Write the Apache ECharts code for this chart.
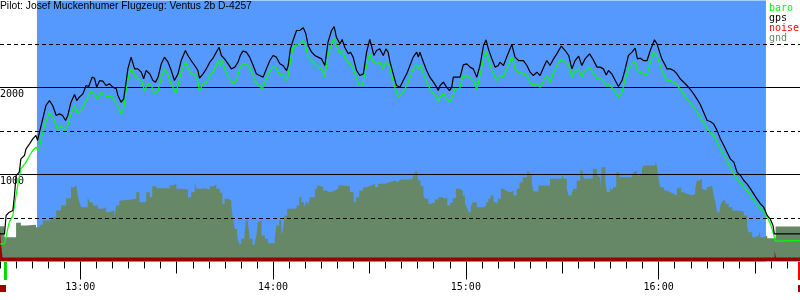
<!DOCTYPE html>
<html>
<head>
<meta charset="utf-8">
<script src="https://cdn.jsdelivr.net/npm/echarts@6/dist/echarts.min.js"></script>
<style>html,body{margin:0;padding:0;background:#fff;}#c{width:800px;height:300px;}</style>
</head>
<body>
<div id="c"></div>
<script>
// ---------- data (time = minutes since midnight, altitude = metres) ----------
const chartTitle = 'Pilot: Josef Muckenhumer Flugzeug: Ventus 2b D-4257';
const legendNames = ['baro', 'gps', 'noise', 'gnd'];
const timeRange = [755, 1004];
const taskWindow = [766.5, 993.4];
const hourTicks = [780, 840, 900, 960];
const halfHourTicks = [810, 870, 930, 990];
const yLabelValues = [1000, 2000];
const solidLevels = [1000, 2000];
const dashedLevels = [500, 1500, 2500];

const gpsTrack = [[754.8,318],[756.4,318],[756.9,529],[757.9,567],[759.0,586],[759.5,759],[760.0,988],[761.0,1027],[761.5,1180],[762.6,1218],[763.1,1295],[764.2,1352],[765.2,1410],[766.2,1448],[766.7,1391],[767.3,1487],[768.3,1640],[769.3,1793],[770.4,1850],[771.4,1793],[772.5,1678],[773.0,1678],[773.5,1697],[774.5,1678],[775.4,1621],[776.1,1678],[777.1,1831],[778.2,1919],[778.9,1850],[779.7,1889],[780.8,1927],[781.8,2023],[782.6,2011],[783.7,2119],[784.4,2107],[785.1,2004],[786.0,2080],[787.0,2073],[788.0,2023],[789.1,2042],[790.1,2004],[791.2,1985],[791.7,1908],[792.7,1831],[793.5,1870],[794.1,2023],[794.8,2214],[795.8,2349],[796.9,2214],[797.9,2214],[799.0,2176],[799.7,2100],[800.5,2195],[801.6,2157],[802.6,2080],[803.4,2061],[804.2,2119],[805.2,2272],[806.2,2349],[807.3,2291],[808.3,2195],[809.3,2080],[810.4,2157],[811.4,2310],[812.7,2425],[813.5,2368],[814.5,2310],[815.6,2253],[816.6,2195],
[817.1,2107],[818.2,2157],[819.2,2214],[820.3,2291],[821.3,2337],[822.3,2406],[823.2,2463],[823.9,2368],[824.4,2387],[824.9,2329],[826.0,2272],[827.0,2214],[828.1,2234],[829.1,2291],[829.8,2368],[830.6,2418],[831.7,2406],[832.7,2349],[833.8,2253],[834.8,2157],[835.8,2138],[836.9,2119],[837.9,2214],[839.0,2310],[840.0,2368],[841.0,2349],[842.1,2272],[843.1,2253],[844.2,2195],[844.7,2253],[845.4,2444],[846.2,2540],[847.3,2655],[848.3,2655],[849.4,2686],[850.2,2617],[850.9,2483],[852.0,2406],[853.0,2368],[854.0,2349],[855.1,2329],[856.1,2253],[857.1,2521],[858.2,2655],[859.0,2701],[859.7,2578],[860.8,2502],[861.5,2552],[862.3,2463],[863.4,2387],[864.1,2406],[864.9,2349],[866.0,2195],[867.0,2138],[868.1,2157],[869.1,2406],[870.1,2552],[870.7,2540],[871.4,2368],[872.2,2425],[873.2,2444],[874.3,2368],[875.1,2444],[875.8,2406],[876.4,2291],[877.4,2157],[878.4,2023],
[879.5,2004],[880.5,2080],[881.6,2157],[882.6,2253],[883.6,2349],[884.7,2406],[885.2,2349],[885.7,2406],[886.8,2291],[887.8,2195],[888.8,2119],[889.9,2061],[890.9,2004],[891.4,1965],[892.0,2023],[893.0,2061],[894.0,2004],[894.9,1965],[895.6,2004],[896.1,2119],[897.1,2119],[898.2,2119],[899.2,2260],[900.3,2272],[901.3,2234],[902.3,2214],[903.4,2119],[904.4,2253],[905.5,2483],[906.3,2548],[907.0,2444],[908.1,2329],[909.1,2234],[910.1,2253],[910.6,2291],[911.7,2253],[912.7,2349],[914.3,2494],[915.3,2349],[916.4,2310],[917.9,2310],[919.0,2253],[920.0,2176],[921.0,2138],[922.1,2176],[923.1,2138],[924.2,2234],[925.2,2310],[926.2,2253],[927.3,2329],[928.3,2387],[929.7,2475],[930.9,2425],[932.0,2368],[933.0,2214],[934.0,2310],[935.1,2360],[936.1,2253],[937.1,2329],[938.5,2387],[939.5,2329],[940.8,2234],
[941.8,2234],[942.8,2214],[943.7,2145],[944.4,2195],[945.4,2157],[946.5,2080],[947.5,2011],[948.6,2080],[949.6,2214],[950.6,2368],[951.7,2406],[952.7,2452],[953.4,2329],[954.3,2337],[955.3,2310],[956.4,2310],[957.4,2425],[958.4,2521],[958.7,2548],[959.5,2502],[960.3,2406],[961.0,2329],[962.1,2253],[962.6,2214],[963.6,2214],[964.7,2195],[965.7,2157],[966.7,2100],[967.8,2061],[968.8,2023],[969.9,1977],[970.9,1927],[971.9,1870],[973.0,1801],[974.0,1716],[975.1,1621],[976.1,1609],[977.1,1582],[978.2,1506],[979.2,1410],[980.3,1333],[981.3,1257],[982.3,1180],[983.4,1142],[983.9,1084],[984.4,1027],[985.5,988],[986.5,931],[987.5,893],[988.6,835],[989.6,778],[990.6,720],[991.7,663],[992.7,624],[993.8,529],[994.8,483],[995.6,414],[996.0,318],[1004.2,318]];

const baroTrack = [[754.8,203],[756.4,203],[756.9,280],[757.4,375],[757.9,452],[759.0,529],[759.5,644],[760.5,873],[761.5,1065],[763.1,1142],[764.2,1218],[765.2,1276],[766.2,1314],[767.1,1276],[767.8,1410],[768.8,1563],[770.4,1716],[771.4,1659],[772.5,1563],[773.0,1506],[774.0,1563],[775.1,1506],[776.1,1563],[777.1,1697],[778.2,1793],[779.2,1697],[780.3,1736],[781.3,1812],[782.3,1889],[783.4,1965],[784.4,1908],[785.5,1870],[786.5,1946],[787.5,1908],[788.6,1889],[789.6,1908],[790.6,1850],[791.7,1793],[792.7,1697],[793.5,1755],[794.3,1985],[795.1,2138],[795.8,2214],[796.9,2138],[797.9,2100],[799.0,2080],[800.0,1965],[801.0,2042],[802.1,2023],[803.1,1927],[804.2,1965],[805.2,2119],[806.2,2214],[807.3,2138],[808.3,2042],[809.7,1935],[810.4,2023],[811.4,2176],[812.7,2291],[813.5,2234],[814.5,2157],[815.6,2157],[816.6,2061],
[817.1,1965],[818.2,2042],[819.2,2061],[820.3,2138],[821.3,2176],[822.3,2253],[822.9,2310],[823.6,2253],[824.2,2310],[824.9,2214],[826.0,2119],[827.0,2080],[827.5,2042],[828.6,2080],[829.4,2195],[830.4,2272],[831.5,2272],[832.5,2234],[833.6,2157],[834.6,2061],[835.6,2023],[836.7,1985],[837.7,2080],[838.8,2176],[839.8,2234],[840.8,2234],[841.9,2157],[843.1,2138],[844.2,2080],[844.7,2138],[845.4,2310],[846.2,2463],[847.3,2502],[848.3,2502],[849.4,2540],[850.2,2463],[850.9,2349],[852.0,2310],[853.0,2272],[854.0,2234],[855.1,2214],[856.1,2119],[857.1,2368],[858.2,2502],[859.0,2567],[859.7,2483],[860.8,2387],[861.6,2425],[862.3,2349],[863.4,2291],[864.4,2253],[865.1,2195],[866.0,2100],[866.8,2023],[867.8,2023],[869.1,2253],[870.1,2387],[871.0,2310],[872.0,2272],[873.2,2291],[874.1,2214],[875.1,2291],[876.2,2253],[876.9,2138],[877.9,2004],[879.0,1889],
[879.5,1870],[880.5,1946],[881.6,2023],[882.6,2119],[883.6,2214],[884.7,2260],[885.2,2214],[885.9,2260],[886.8,2157],[887.8,2061],[888.8,1985],[889.9,1927],[890.9,1889],[891.4,1839],[892.2,1908],[893.2,1927],[894.0,1870],[894.9,1831],[895.6,1870],[896.6,1985],[898.0,1977],[899.0,2119],[900.1,2138],[901.3,2119],[902.3,2080],[903.4,1977],[904.4,2138],[905.5,2329],[906.3,2414],[907.0,2329],[908.1,2195],[909.1,2119],[909.6,2080],[910.6,2138],[911.7,2119],[912.7,2214],[914.3,2349],[915.3,2214],[916.4,2176],[917.9,2157],[919.0,2138],[920.0,2061],[921.0,2023],[922.1,2042],[923.1,2004],[924.2,2080],[925.2,2138],[926.2,2061],[927.3,2176],[928.3,2253],[929.7,2329],[930.9,2291],[932.0,2253],[933.0,2119],[934.0,2195],[935.1,2214],[936.1,2119],[937.1,2195],[938.5,2234],[939.5,2176],[940.8,2100],
[941.8,2100],[942.8,2080],[943.7,2015],[944.4,2042],[945.4,2004],[946.5,1946],[947.5,1889],[948.6,1946],[949.6,2100],[950.6,2214],[951.7,2272],[952.7,2299],[953.4,2184],[954.3,2176],[955.3,2157],[956.4,2145],[957.4,2291],[958.4,2406],[958.7,2425],[959.5,2368],[960.3,2272],[961.0,2195],[962.1,2119],[962.6,2080],[963.6,2080],[964.7,2061],[965.7,2023],[966.7,1985],[967.8,1927],[968.8,1870],[969.9,1824],[970.9,1774],[971.9,1716],[973.0,1659],[974.0,1601],[975.1,1525],[976.1,1487],[977.1,1448],[978.2,1372],[979.2,1295],[980.3,1218],[981.3,1161],[982.3,1084],[983.4,1008],[984.4,950],[985.5,912],[986.5,854],[987.5,816],[988.6,758],[989.6,701],[990.6,663],[991.7,605],[992.7,567],[993.8,509],[994.8,433],[995.6,337],[996.3,234],[1004.2,241]];

const gndProfile = [[754.8,406],[756.4,280],[760.0,444],[761.5,414],[763.1,421],[766.2,395],[767.3,421],[768.3,471],[770.9,510],[772.5,586],[774.0,644],[775.6,728],[777.1,854],[778.2,835],[778.7,881],[779.2,759],[779.7,682],[780.3,625],[782.3,739],[782.9,682],[783.9,644],[785.5,605],[787.0,625],[788.0,567],[789.1,586],[790.6,490],[791.2,644],[792.2,701],[793.2,720],[797.4,797],[798.4,682],[800.5,797],[801.6,739],[802.4,866],[803.6,843],[807.8,873],[808.8,893],[809.9,835],[811.4,827],[813.5,739],[814.5,797],[815.6,920],[816.1,835],
[817.1,843],[818.7,828],[820.3,866],[821.3,881],[822.3,835],[823.4,789],[824.2,663],[824.9,720],[826.0,701],[827.0,644],[827.5,490],[828.1,375],[828.8,299],[829.4,203],[830.1,261],[830.9,222],[831.5,471],[832.2,433],[832.7,261],[833.6,192],[834.3,222],[834.8,299],[835.3,452],[835.8,471],[836.4,299],[837.4,261],[838.4,211],[840.5,261],[841.0,414],[841.9,471],[842.6,299],[843.1,375],[843.6,529],[844.4,605],[847.3,644],[848.1,739],[848.8,682],[849.6,625],[850.2,682],[850.9,625],[851.4,739],[853.0,835],[853.7,873],[854.5,854],[855.6,816],[856.6,797],[857.7,816],[859.2,835],[860.3,873],[861.8,866],[863.9,797],[865.1,682],[865.8,739],[866.8,816],[868.1,854],[869.1,873],[870.6,893],[871.7,854],[872.7,893],[874.8,912],[876.4,931],[877.9,912],[878.9,931],
[879.5,943],[882.6,969],[883.1,931],[883.6,981],[884.2,1034],[884.9,988],[885.2,931],[885.9,866],[886.8,759],[887.3,720],[888.3,663],[889.3,682],[890.4,713],[891.4,739],[892.5,720],[893.5,739],[894.2,644],[895.1,674],[895.9,728],[896.9,835],[898.0,816],[899.0,759],[899.7,663],[900.3,625],[900.8,567],[901.5,625],[902.1,682],[903.4,625],[905.5,644],[906.3,682],[907.0,720],[907.7,759],[908.6,682],[909.6,644],[910.1,720],[910.9,835],[911.7,816],[912.5,797],[913.8,816],[914.8,759],[915.8,835],[916.7,912],[917.7,969],[919.0,1034],[919.8,988],[920.5,912],[921.0,805],[922.6,873],[924.2,873],[926.2,950],[929.9,1008],[930.4,950],[931.4,835],[932.0,759],[933.0,789],[933.5,835],[934.5,931],[935.6,1046],[936.4,988],[936.8,950],[938.2,958],[939.5,1065],[940.8,988],[941.3,969],
[941.8,835],[942.3,1084],[943.4,912],[943.9,797],[944.9,854],[945.4,816],[946.0,854],[946.8,1027],[947.8,969],[951.7,988],[952.2,1027],[952.7,1046],[953.2,988],[954.1,1008],[954.8,1065],[955.3,1103],[959.0,1161],[959.5,1084],[960.0,950],[960.5,854],[961.6,816],[962.6,797],[963.6,778],[964.7,758],[965.7,835],[966.2,854],[967.0,797],[967.8,778],[968.8,758],[970.4,778],[971.4,835],[971.9,931],[972.8,950],[973.5,835],[974.0,816],[974.9,854],[975.6,873],[976.6,854],[977.1,758],[977.7,682],[978.2,567],[979.0,605],[979.4,663],[980.0,701],[980.8,663],[981.8,625],[982.9,586],[984.4,575],[986.5,529],[987.5,414],[988.0,337],[989.1,280],[990.1,299],[991.2,356],[991.7,280],[992.7,299],[993.8,268],[996.4,402],[1004.2,402]];

const noiseLevel = [[754.8,470],[755.3,207],[755.8,46],[996.1,126],[996.5,46],[1004.2,46]];

const markerKinds = ['takeoff', 'logStart', 'logEnd'];
const markerEvents = [[756.7, 0], [755.0, 1], [1004.0, 2]];

// ---------- styles ----------
const colors = { baro: '#00ff00', gps: '#000000', noise: '#ff0000', gnd: '#668866' };
const mono = 'DejaVu Sans Mono, monospace';
const markerStyles = {
  takeoff: [{ dx: -1.5, w: 3, top: 1, bottom: 19, color: '#00dd00' }],
  logStart: [{ dx: 0, w: 6, top: 24, bottom: 31, color: '#990000' }],
  logEnd: [{ dx: -2, w: 2, top: 1, bottom: 19, color: '#ff0000' }, { dx: -2, w: 2, top: 24, bottom: 31, color: '#990000' }]
};
const fmtTime = v => { const h = Math.floor(v / 60); const m = Math.round(v - h * 60); return h + ':' + String(m).padStart(2, '0'); };

const chart = echarts.init(document.getElementById('c'), null, { renderer: 'canvas' });
const baseX = { type: 'value', gridIndex: 0, position: 'bottom', min: timeRange[0], max: timeRange[1],
  axisLine: { show: false }, splitLine: { show: false } };

const option = {
  animation: false,
  backgroundColor: '#ffffff',
  title: { text: chartTitle, left: 0, top: 0, padding: [1, 0, 0, 0],
    textStyle: { fontSize: 10.3, fontWeight: 'normal', color: '#000', fontFamily: 'Liberation Sans, Arial, sans-serif', lineHeight: 11 } },
  legend: {
    data: legendNames.map(n => ({ name: n, icon: 'rect', textStyle: { color: colors[n] } })),
    orient: 'vertical', left: 763, top: 3, padding: 0, itemGap: 0, itemWidth: 1, itemHeight: 10,
    selectedMode: false,
    itemStyle: { opacity: 0 }, lineStyle: { opacity: 0 },
    textStyle: { fontFamily: mono, fontSize: 10, lineHeight: 10 }
  },
  grid: [
    { left: 0, right: 0, top: 0.5, bottom: 38.5, containLabel: false, outerBoundsMode: 'none' },
    { left: 0, right: 0, top: 261, height: 39, containLabel: false, outerBoundsMode: 'none' }
  ],
  xAxis: [
    Object.assign({}, baseX, { interval: 5, axisTick: { show: true, length: 7, lineStyle: { color: '#000' } }, axisLabel: { show: false } }),
    Object.assign({}, baseX, { axisTick: { show: true, length: 12, customValues: halfHourTicks, lineStyle: { color: '#000' } },
      axisLabel: { show: false, customValues: halfHourTicks } }),
    Object.assign({}, baseX, { axisTick: { show: true, length: 18, customValues: hourTicks, lineStyle: { color: '#000' } },
      axisLabel: { show: true, customValues: hourTicks, formatter: fmtTime, margin: 21, fontFamily: mono, fontSize: 10, color: '#000' } }),
    { type: 'value', gridIndex: 1, min: timeRange[0], max: timeRange[1], show: false }
  ],
  yAxis: [
    { type: 'value', gridIndex: 0, min: 0, max: 3000, interval: 1000,
      axisLine: { show: false }, axisTick: { show: false }, splitLine: { show: false },
      axisLabel: { inside: true, margin: 0, align: 'left', verticalAlign: 'top', padding: [2, 0, 0, 0],
        fontFamily: mono, fontSize: 10, color: '#000',
        formatter: v => yLabelValues.indexOf(v) >= 0 ? String(v) : '' } },
    { type: 'value', gridIndex: 1, min: 0, max: 39, inverse: true, show: false }
  ],
  series: [
    { name: 'gnd', type: 'line', xAxisIndex: 0, yAxisIndex: 0, data: gndProfile, step: 'end', symbol: 'none',
      z: 2, lineStyle: { width: 0, opacity: 0 }, itemStyle: { color: colors.gnd },
      areaStyle: { color: colors.gnd, opacity: 1 },
      markArea: { silent: true, itemStyle: { color: '#5599ff', opacity: 1 },
        data: [[{ xAxis: taskWindow[0] }, { xAxis: taskWindow[1] }]] },
      markLine: { silent: true, symbol: ['none', 'none'], label: { show: false }, animation: false,
        data: solidLevels.map(v => ({ yAxis: v, lineStyle: { type: 'solid', color: '#000', width: 1 } }))
          .concat(dashedLevels.map(v => ({ yAxis: v, lineStyle: { type: [4, 3], color: '#000', width: 1 } }))) } },
    { name: 'noise', type: 'line', xAxisIndex: 0, yAxisIndex: 0, data: noiseLevel, step: 'end', symbol: 'none',
      z: 3, lineStyle: { width: 0, opacity: 0 }, itemStyle: { color: colors.noise },
      areaStyle: { color: '#990000', opacity: 1 } },
    { name: 'baro', type: 'line', xAxisIndex: 0, yAxisIndex: 0, data: baroTrack, symbol: 'none', z: 6,
      lineStyle: { color: colors.baro, width: 1.2 }, itemStyle: { color: colors.baro } },
    { name: 'gps', type: 'line', xAxisIndex: 0, yAxisIndex: 0, data: gpsTrack, symbol: 'none', z: 7,
      lineStyle: { color: colors.gps, width: 1.2 }, itemStyle: { color: colors.gps } },
    { type: 'custom', xAxisIndex: 3, yAxisIndex: 1, data: markerEvents, z: 8, clip: false,
      encode: { x: 0 },
      renderItem: (params, api) => {
        const t = api.value(0);
        const kind = markerKinds[api.value(1)];
        return { type: 'group', children: markerStyles[kind].map(s => {
          const p0 = api.coord([t, s.top]);
          const p1 = api.coord([t, s.bottom]);
          return { type: 'rect', shape: { x: p0[0] + s.dx, y: p0[1], width: s.w, height: p1[1] - p0[1] }, style: { fill: s.color } };
        }) };
      } }
  ]
};
chart.setOption(option);
</script>
</body>
</html>
